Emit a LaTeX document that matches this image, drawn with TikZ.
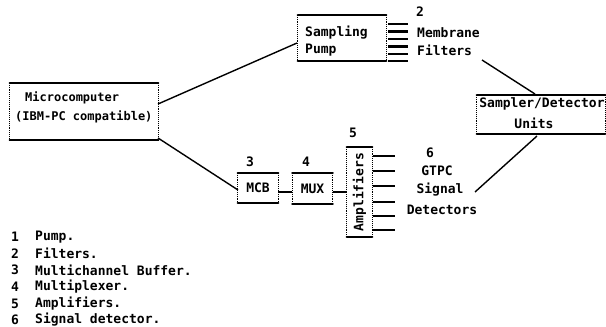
\documentclass[tikz,border=0pt]{standalone}
\usepackage{fontspec}
\setmonofont{DejaVu Sans Mono}
\usetikzlibrary{calc}
\tikzset{
  hb/.style={line width=2.4pt, line cap=round},
  sd/.style={line width=0.9pt, densely dotted},
  conn/.style={line width=1.4pt},
  fbar/.style={line width=2.2pt},
  txt/.style={inner sep=0pt, font=\ttfamily\bfseries\fontsize{13}{15}\selectfont},
  stxt/.style={inner sep=0pt, font=\ttfamily\bfseries\fontsize{12}{14}\selectfont},
  box/.style={inner sep=0pt},
}
\newcommand{\frameit}[1]{%
  \draw[hb] (#1.north west) -- (#1.north east);
  \draw[hb] (#1.south west) -- (#1.south east);
  \draw[sd] (#1.north west) -- (#1.south west);
  \draw[sd] (#1.north east) -- (#1.south east);}
\begin{document}
\begin{tikzpicture}[x=1pt,y=-1pt]
\useasboundingbox (0,0) rectangle (606,327);
% boxes
\node[box, minimum width=148pt, minimum height=57pt] (mc) at (84,111.5) {};
\node[box, minimum width=88pt, minimum height=46pt] (sp) at (342,38) {};
\node[box, minimum width=128pt, minimum height=39pt] (sdu) at (541,114.5) {};
\node[box, minimum width=40pt, minimum height=30pt] (mcb) at (258,188) {};
\node[box, minimum width=40pt, minimum height=31pt] (mux) at (312.5,188.5) {};
\node[box, minimum width=25pt, minimum height=90pt] (amp) at (359.5,192) {};
\frameit{mc}\frameit{sp}\frameit{sdu}\frameit{mcb}\frameit{mux}\frameit{amp}
% box texts
\node[stxt, anchor=west] (mct1) at (25,98) {Microcomputer};
\node[stxt, anchor=west] (mct2) at (15,117) {(IBM-PC compatible)};
\node[txt, anchor=west] (spt1) at (305,33) {Sampling};
\node[txt, anchor=west] (spt2) at (305,50) {Pump};
\node[txt] (sdt1) at (542,104) {Sampler/Detector};
\node[txt] (sdt2) at (534,123) {Units};
\node[txt] (mcbt) at (mcb.center) {MCB};
\node[txt] (muxt) at (mux.center) {MUX};
\node[txt, rotate=90] (ampt) at (amp.center) {Amplifiers};
% numbers and labels
\node[txt] (n2) at (420,12) {2};
\node[txt, anchor=west] (mf1) at (417,33) {Membrane};
\node[txt, anchor=west] (mf2) at (417,50) {Filters};
\node[txt] (n3) at (250,162) {3};
\node[txt] (n4) at (306,162) {4};
\node[txt] (n5) at (353,133) {5};
\node[txt] (d1) at (430,153) {6};
\node[txt] (d2) at (437,171) {GTPC};
\node[txt] (d3) at (440,190) {Signal};
\node[txt] (d4) at (442,210) {Detectors};
% filter bars
\foreach \y [count=\i] in {24,31.5,39,46.5,54,61}{
  \coordinate (fa\i) at (388,\y); \coordinate (fb\i) at (408,\y);
  \draw[fbar] (fa\i) -- (fb\i);}
% amplifier output bars
\foreach \y [count=\i] in {156,171,186,202,216,230}{
  \coordinate (aa\i) at (373,\y); \coordinate (ab\i) at (395,\y);
  \draw[fbar] (aa\i) -- (ab\i);}
% connectors
\coordinate (mcout1) at (158,104);
\coordinate (mcout2) at (158,138);
\coordinate (spin) at (297,43);
\coordinate (mcbin) at (238,190);
\coordinate (mfout) at (482,60);
\coordinate (sdin) at (535,94);
\coordinate (sdout) at (537,136);
\coordinate (detin) at (475,192);
\draw[conn] (mcout1) -- (spin);
\draw[conn] (mcout2) -- (mcbin);
\draw[conn] (mfout) -- (sdin);
\draw[conn] (sdout) -- (detin);
\draw[conn] (mcb.east |- 0,192) -- (mux.west |- 0,192);
\draw[conn] (mux.east |- 0,192) -- (amp.west |- 0,192);
% legend
\foreach \n/\t [count=\i] in {1/Pump., 2/Filters., 3/Multichannel Buffer., 4/Multiplexer., 5/Amplifiers., 6/Signal detector.}{
  \node[txt, anchor=west] (ln\i) at (11,{237+16.6*(\i-1)}) {\n};
  \node[txt, anchor=west] (lt\i) at (35,{237+16.6*(\i-1)}) {\t};}
\end{tikzpicture}
\end{document}
